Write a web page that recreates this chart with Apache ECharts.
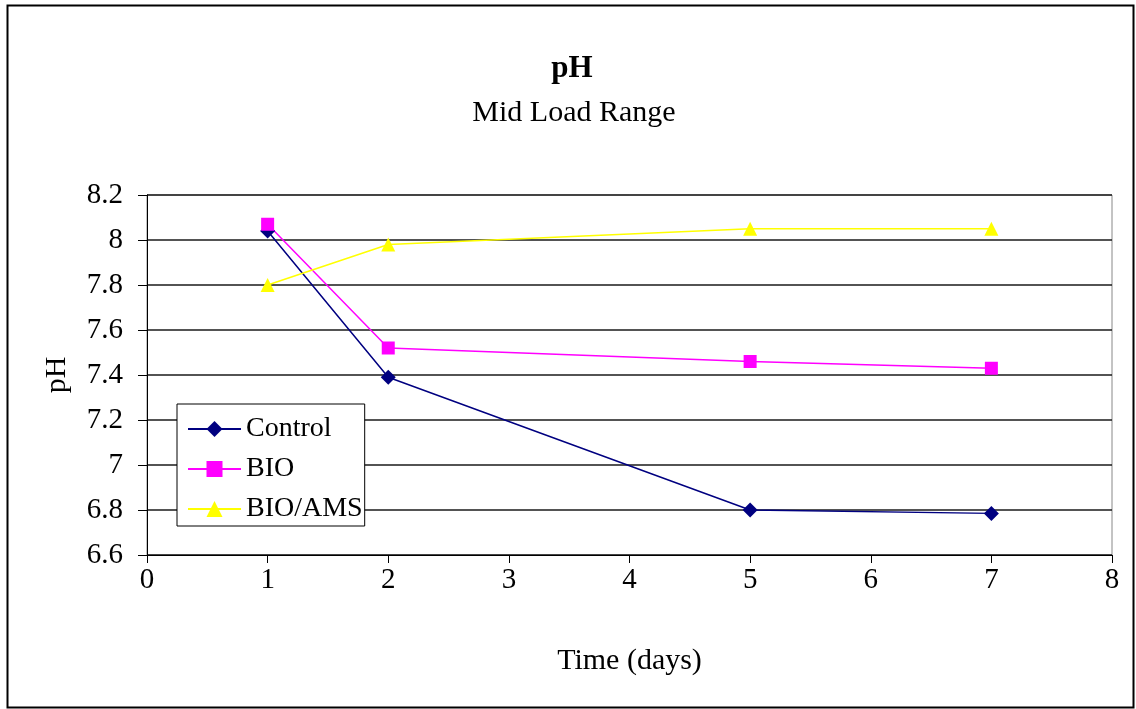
<!DOCTYPE html>
<html>
<head>
<meta charset="utf-8">
<script src="https://cdn.jsdelivr.net/npm/echarts@6/dist/echarts.min.js"></script>
<style>
  html, body { margin: 0; padding: 0; background: #fff; }
  #chart { width: 1136px; height: 709px; }
</style>
</head>
<body>
<div id="chart"></div>
<script>
// Sampling days and measured pH per treatment
const days = [1, 2, 5, 7];
const control = [8.04, 7.39, 6.80, 6.785];
const bio = [8.07, 7.52, 7.46, 7.43];
const bioAms = [7.80, 7.98, 8.05, 8.05];
const seriesNames = ['Control', 'BIO', 'BIO/AMS'];

const FONT = 'Liberation Serif';
const pairs = vals => days.map((d, i) => [d, vals[i]]);

const chart = echarts.init(document.getElementById('chart'));
chart.setOption({
  backgroundColor: '#fff',
  animation: false,
  title: [
    { text: 'pH', left: 567, textAlign: 'center', top: 48,
      textStyle: { fontFamily: FONT, fontSize: 31, fontWeight: 'bold', color: '#000' } },
    { text: 'Mid Load Range', left: 569, textAlign: 'center', top: 93,
      textStyle: { fontFamily: FONT, fontSize: 30, fontWeight: 'normal', color: '#000' } }
  ],
  graphic: [
    { type: 'rect', left: 5, top: 3, shape: { width: 1126, height: 702 },
      style: { fill: 'none', stroke: '#000', lineWidth: 2 }, silent: true }
  ],
  grid: { left: 147, right: 24, top: 195, bottom: 154, show: true,
          borderColor: '#888', borderWidth: 1, backgroundColor: 'transparent' },
  legend: {
    orient: 'vertical', left: 177, top: 404,
    backgroundColor: '#fff', borderColor: '#000', borderWidth: 1,
    padding: [11, 2, 3, 10],
    itemWidth: 53, itemHeight: 20, itemGap: 12,
    textStyle: { fontFamily: FONT, fontSize: 28, color: '#000' },
    data: seriesNames
  },
  xAxis: {
    type: 'value', min: 0, max: 8, interval: 1,
    name: 'Time (days)', nameLocation: 'middle', nameGap: 91,
    nameTextStyle: { fontFamily: FONT, fontSize: 30, color: '#000' },
    axisLine: { show: true, lineStyle: { color: '#000', width: 1 } },
    axisTick: { show: true, inside: false, length: 8, lineStyle: { color: '#000' } },
    axisLabel: { fontFamily: FONT, fontSize: 29, color: '#000', margin: 11 },
    splitLine: { show: false }
  },
  yAxis: {
    type: 'value', min: 6.6, max: 8.2, interval: 0.2,
    name: 'pH', nameLocation: 'middle', nameGap: 75, nameRotate: 90,
    nameTextStyle: { fontFamily: FONT, fontSize: 30, color: '#000' },
    axisLine: { show: true, lineStyle: { color: '#000', width: 1 } },
    axisTick: { show: true, inside: false, length: 9, lineStyle: { color: '#000' } },
    axisLabel: { fontFamily: FONT, fontSize: 29, color: '#000', margin: 24,
                 formatter: v => String(Math.round(v * 10) / 10) },
    splitLine: { show: true, lineStyle: { color: '#1a1a1a', width: 1.5 } }
  },
  series: [
    { name: 'Control', type: 'line', data: pairs(control),
      symbol: 'diamond', symbolSize: 15,
      itemStyle: { color: '#000080' }, lineStyle: { color: '#000080', width: 1.5 } },
    { name: 'BIO', type: 'line', data: pairs(bio),
      symbol: 'rect', symbolSize: 13,
      itemStyle: { color: '#FF00FF' }, lineStyle: { color: '#FF00FF', width: 1.5 } },
    { name: 'BIO/AMS', type: 'line', data: pairs(bioAms),
      symbol: 'triangle', symbolSize: 14,
      itemStyle: { color: '#FFFF00' }, lineStyle: { color: '#FFFF00', width: 1.5 } }
  ]
});
</script>
</body>
</html>
